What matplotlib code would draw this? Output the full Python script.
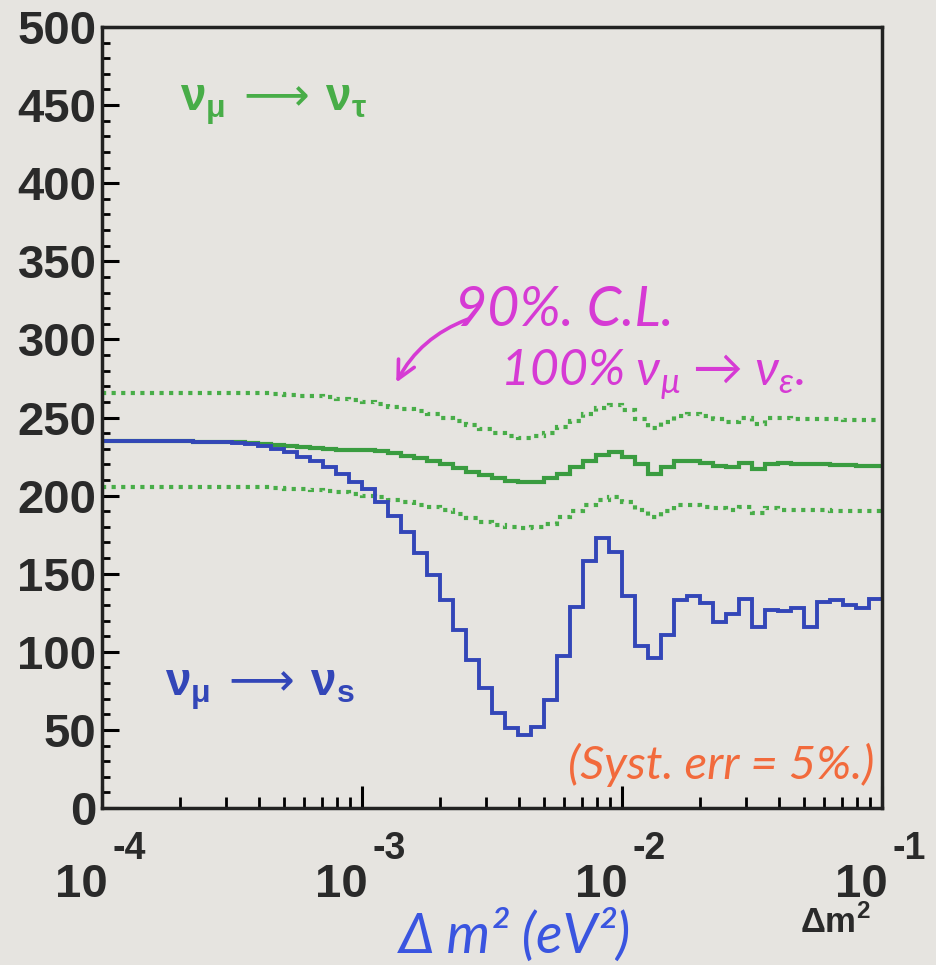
import numpy as np
import matplotlib.pyplot as plt
from matplotlib.ticker import MultipleLocator, LogLocator, NullFormatter

# log bins in delta m^2, 20 per decade from 1e-4 to 1e-1
edges = np.logspace(-4, -1, 61)

# expected events, nu_mu -> nu_s
nu_s = [235, 235, 235, 235, 235, 235, 235, 234.5, 234.5, 234,
        233.5, 233, 232, 230, 228, 225, 222, 218, 214, 209,
        204, 196, 187, 177, 163, 149, 133, 114, 95, 77,
        61, 51, 47, 52, 69, 97, 129, 158, 173, 164,
        136, 104, 96, 111, 133, 136, 131, 119, 124, 134,
        116, 127, 126, 128, 116, 132, 133, 130, 128, 134]

# expected events, nu_mu -> nu_tau
nu_tau = [235, 235, 235, 235, 235, 235, 235, 234.5, 234.5, 234.5,
          234, 233.5, 233, 232.5, 232, 231, 230.5, 230, 229.5, 229,
          229, 228.5, 227, 225.5, 224, 222, 220, 217.5, 215, 213,
          211, 209.5, 208.5, 209, 211, 214, 218, 222, 226, 228,
          225, 220, 214, 218, 222, 222, 221, 219, 218, 221,
          217, 220, 221, 220, 220, 220, 219.5, 219.5, 219, 219]

# 90% C.L. band for the tau case
tau_hi = [265.5, 265.5, 265.5, 265.5, 265.5, 265.5, 265.5, 265.5, 265.5, 265.5,
          265.5, 265.5, 265.5, 265, 264.5, 264, 263.5, 263, 262, 261,
          260, 258.5, 257, 255.5, 254, 252, 250, 247.5, 245, 242.5,
          240, 238, 237, 238, 240, 244, 248, 252, 256, 258,
          255, 249, 243, 247, 251, 252, 251, 249, 247, 250,
          246, 250, 250, 249, 249, 249, 249, 248.5, 248.5, 248.5]
tau_lo = [205.5, 205.5, 205.5, 205.5, 205.5, 205.5, 205.5, 205.5, 205.5, 205.5,
          205.5, 205.5, 205.5, 205, 204.5, 204, 203.5, 203, 202, 201,
          200, 199, 197.5, 196, 194, 192.5, 190.5, 188, 185.5, 183,
          181, 180, 179.5, 180, 182, 186, 190, 194, 197, 199,
          196, 191, 186, 190, 194, 194, 193, 192, 191, 193,
          189, 192, 191, 191, 190.5, 190.5, 190, 190, 190, 190]

y_ticks = list(range(0, 501, 50))
x_decades = [1e-4, 1e-3, 1e-2, 1e-1]
x_exps = ['-4', '-3', '-2', '-1']

bg = '#e6e4e0'
ink = '#2a2a2a'
blue = '#3346b8'
green = '#3a9c40'
green_lt = '#48ad48'
magenta = '#d63ad4'
orange = '#f26a3c'
pen_blue = '#3a55e0'

plt.rcParams['font.family'] = ['Liberation Sans', 'DejaVu Sans']
plt.rcParams['mathtext.fontset'] = 'dejavusans'

fig = plt.figure(figsize=(9.37, 9.65), dpi=100, facecolor=bg)
ax = fig.add_axes([0.1089, 0.1627, 0.8324, 0.8093], facecolor=bg)

dots = (0, (1.0, 1.3))
ax.stairs(tau_hi, edges, baseline=None, color=green_lt, lw=3, ls=dots)
ax.stairs(tau_lo, edges, baseline=None, color=green_lt, lw=3, ls=dots)
ax.stairs(nu_tau, edges, baseline=None, color=green, lw=3)
ax.stairs(nu_s, edges, baseline=None, color=blue, lw=2.8)

ax.set_xscale('log')
ax.set_xlim(1e-4, 1e-1)
ax.set_ylim(0, 500)

for s in ax.spines.values():
    s.set_linewidth(2.5)
    s.set_color('#222222')

ax.yaxis.set_major_locator(MultipleLocator(50))
ax.yaxis.set_minor_locator(MultipleLocator(10))
ax.set_yticks(y_ticks)
ax.set_yticklabels([str(v) for v in y_ticks], fontsize=34, fontweight='bold',
                   color=ink)
ax.tick_params(axis='y', which='major', direction='in', length=12, width=2.2,
               pad=4, right=False)
ax.tick_params(axis='y', which='minor', direction='in', length=6, width=2,
               right=False)

ax.xaxis.set_major_locator(LogLocator(base=10, numticks=10))
ax.xaxis.set_minor_locator(LogLocator(base=10, subs=np.arange(2, 10), numticks=20))
ax.xaxis.set_major_formatter(NullFormatter())
ax.xaxis.set_minor_formatter(NullFormatter())
ax.tick_params(axis='x', which='major', direction='in', length=16, width=2.2,
               top=False)
ax.tick_params(axis='x', which='minor', direction='in', length=8, width=2,
               top=False)

# ROOT style decade labels: "10" below with the exponent raised to the right
xt = ax.get_xaxis_transform()
for xv, ex in zip(x_decades, x_exps):
    ax.text(xv * 1.05, -0.099, '10', transform=xt, ha='right', va='center',
            fontsize=34, fontweight='bold', color=ink, clip_on=False)
    ax.text(xv * 1.10, -0.052, ex, transform=xt, ha='left', va='center',
            fontsize=27, fontweight='bold', color=ink, clip_on=False)
fig.text(0.929, 0.044, 'Δm$^{\\mathregular{2}}$', ha='right', va='center',
         fontsize=25, fontweight='bold', color=ink)

# curve labels
ax.text(0.10, 0.90,
        'ν$_{\\mathregular{μ}}\\,\\longrightarrow\\,$ν$_{\\mathregular{τ}}$',
        transform=ax.transAxes, fontsize=33, fontweight='bold',
        color=green_lt, va='center')
ax.text(0.081, 0.151,
        'ν$_{\\mathregular{μ}}\\,\\longrightarrow\\,$ν$_{\\mathregular{s}}$',
        transform=ax.transAxes, fontsize=33, fontweight='bold',
        color=blue, va='center')

# hand written notes
hand = ['Lato', 'DejaVu Sans']
ax.text(0.4526, 0.6376, '90%. C.L.', transform=ax.transAxes, fontsize=40,
        color=magenta, va='center', style='italic', family=hand)
ax.text(0.51, 0.556, '100% ν$_{\\mathregular{μ}}$ → ν$_{\\mathregular{ε}}$.',
        transform=ax.transAxes, fontsize=36, color=magenta, va='center',
        style='italic', family=hand)
ax.annotate('', xy=(0.3756, 0.5416), xytext=(0.472, 0.627),
            xycoords='axes fraction', textcoords='axes fraction',
            arrowprops=dict(arrowstyle='->', color=magenta, lw=2.6,
                            connectionstyle='arc3,rad=0.2',
                            mutation_scale=32))
ax.text(0.597, 0.055, '(Syst. err = 5%.)', transform=ax.transAxes,
        fontsize=34, color=orange, va='center', style='italic', family=hand)
fig.text(0.55, 0.030, 'Δ m² (eV²)', ha='center', va='center', fontsize=40,
         color=pen_blue, style='italic', family=hand)

fig.savefig('out.png', dpi=100, facecolor=bg)
